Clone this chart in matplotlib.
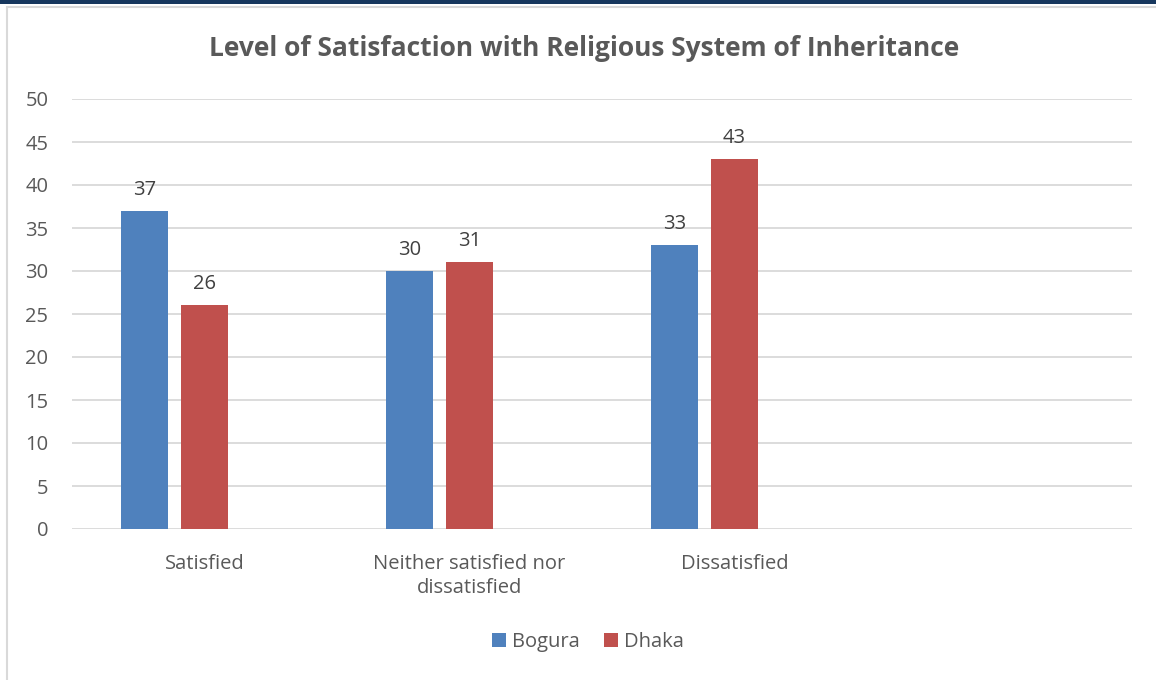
import matplotlib.pyplot as plt
from matplotlib.patches import Rectangle

plt.rcParams['font.family'] = ['Open Sans', 'DejaVu Sans']

categories = ["Satisfied", "Neither satisfied nor\ndissatisfied", "Dissatisfied", ""]
bogura = [37, 30, 33]
dhaka = [26, 31, 43]
series_names = ["Bogura", "Dhaka"]
colors = ["#4f81bd", "#c0504d"]
text_color = "#595959"

fig = plt.figure(figsize=(11.56, 6.8), dpi=100)
ax = fig.add_axes([72 / 1156, 151 / 680, 1060 / 1156, 430 / 680])

# outer frame and top band
fig.patches.append(Rectangle((7 / 1156, -0.1), 1.2, (673 / 680) + 0.1, transform=fig.transFigure,
                             fill=False, edgecolor="#d9d9d9", linewidth=1.5))
fig.patches.append(Rectangle((0, 676 / 680), 1, 4 / 680, transform=fig.transFigure,
                             color="#17375e", linewidth=0))

w = 47 / 265
x = list(range(len(bogura)))
b1 = ax.bar([i - 0.225 for i in x], bogura, width=w, color=colors[0], label=series_names[0], zorder=3)
b2 = ax.bar(x, dhaka, width=w, color=colors[1], label=series_names[1], zorder=3)
for bars in (b1, b2):
    for r in bars:
        ax.text(r.get_x() + r.get_width() / 2, r.get_height() + 1.3, f"{r.get_height():.0f}",
                ha="center", va="bottom", fontsize=14.5, color="#404040")

ax.set_xlim(-0.5, 3.5)
ax.set_ylim(0, 50)
ax.set_yticks(range(0, 51, 5))
ax.set_xticks(range(4))
ax.set_xticklabels(categories, linespacing=1.25)
ax.tick_params(axis="both", length=0, labelsize=14.5, colors=text_color)
ax.tick_params(axis="x", pad=18)
ax.tick_params(axis="y", pad=17)
ax.grid(axis="y", color="#d9d9d9", linewidth=1.3, zorder=0)
for s in ax.spines.values():
    s.set_visible(False)

fig.text(584 / 1156, 632 / 680, "Level of Satisfaction with Religious System of Inheritance",
         ha="center", va="center", fontsize=19, fontweight="bold", color=text_color)

fig.legend(loc="center", bbox_to_anchor=(588 / 1156, 38 / 680), ncol=2, frameon=False,
           fontsize=14.5, labelcolor=text_color, handlelength=0.7, handleheight=0.7,
           handletextpad=0.3, columnspacing=1.2)

fig.savefig("out.png", dpi=100)
